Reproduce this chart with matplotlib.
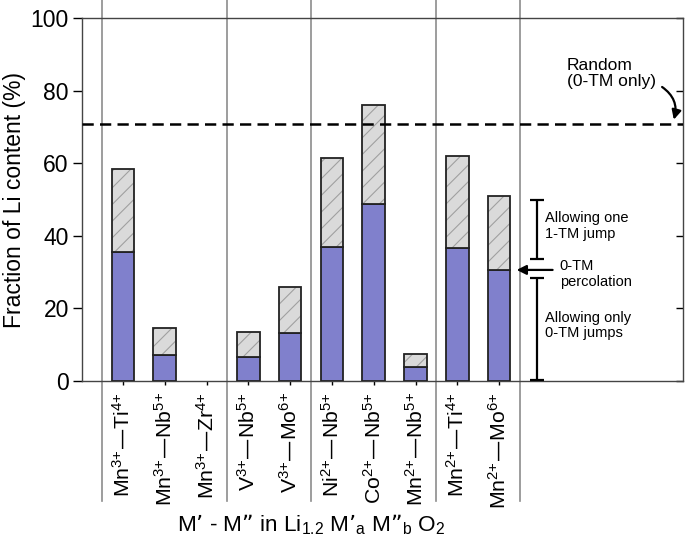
import matplotlib
matplotlib.use('Agg')
import matplotlib.pyplot as plt
import numpy as np

plt.rcParams['font.family'] = ['Liberation Sans', 'DejaVu Sans']
plt.rcParams['mathtext.default'] = 'regular'
plt.rcParams['hatch.linewidth'] = 0.8

pairs = ["Mn$^{3{+}}$—Ti$^{4{+}}$", "Mn$^{3{+}}$—Nb$^{5{+}}$", "Mn$^{3{+}}$—Zr$^{4{+}}$",
         "V$^{3{+}}$—Nb$^{5{+}}$", "V$^{3{+}}$—Mo$^{6{+}}$",
         "Ni$^{2{+}}$—Nb$^{5{+}}$", "Co$^{2{+}}$—Nb$^{5{+}}$", "Mn$^{2{+}}$—Nb$^{5{+}}$",
         "Mn$^{2{+}}$—Ti$^{4{+}}$", "Mn$^{2{+}}$—Mo$^{6{+}}$"]
zero_tm = [35.4, 7.2, 0.0, 6.6, 13.2, 36.9, 48.7, 3.9, 36.6, 30.6]
one_tm = [58.3, 14.6, 0.0, 13.6, 26.0, 61.3, 76.0, 7.5, 62.0, 51.0]
random_level = 70.8
separators = [-0.5, 2.5, 4.5, 7.5, 9.5]

x = np.arange(len(pairs))
extra = np.array(one_tm) - np.array(zero_tm)
lw_bars = [1.3 if v > 0 else 0 for v in one_tm]

fig = plt.figure(figsize=(6.85, 5.47), dpi=100)
ax = fig.add_axes([82/685, 166/547, 601/685, 363/547])

w = 0.54
ax.bar(x, zero_tm, width=w, color='#8080cc', edgecolor='#222222', linewidth=lw_bars, zorder=3)
ax.bar(x, extra, bottom=zero_tm, width=w, color='#dadada', edgecolor='#a0a0a0',
       hatch='//', linewidth=0, zorder=3)
ax.bar(x, extra, bottom=zero_tm, width=w, fill=False, edgecolor='#222222', linewidth=lw_bars, zorder=4)

for s in separators:
    ax.axvline(s, ymin=-0.33, ymax=1.06, color='#8c8c8c', lw=1.2, clip_on=False, zorder=1)

ax.axhline(random_level, color='black', lw=1.8, ls=(0, (4.5, 2.5)), zorder=5)

ax.set_xlim(-0.98, 13.4)
ax.set_ylim(0, 100)
ax.set_yticks([0, 20, 40, 60, 80, 100])
ax.tick_params(axis='y', labelsize=16.5, length=6.5, width=1, direction='out', pad=3)
ax.tick_params(axis='y', which='both', right=True, labelright=False)
ax.set_xticks(x)
ax.set_xticklabels(pairs, rotation=90, fontsize=15.3)
ax.tick_params(axis='x', length=3, width=1, pad=5)
for sp in ax.spines.values():
    sp.set_color('#444444')
    sp.set_linewidth(1.0)
# right ticks point inward
for t in ax.yaxis.get_major_ticks():
    t.tick2line.set_marker(matplotlib.lines.TICKLEFT)
    t.tick2line.set_markersize(5)

ax.set_ylabel("Fraction of Li content (%)", fontsize=16.5, labelpad=3)
ax.text(4.5, -0.395, "M’ - M” in Li$_{1.2}$ M’$_a$ M”$_b$ O$_2$", fontsize=16.2,
        transform=ax.get_xaxis_transform(), ha='center', va='center')

# bracket annotations
bx = 9.9
ax.errorbar(bx, (50 + 33.6) / 2, yerr=(50 - 33.6) / 2, color='black', lw=1.6, capsize=5, capthick=1.6, zorder=6)
ax.errorbar(bx, (28.4 + 0.4) / 2, yerr=(28.4 - 0.4) / 2, color='black', lw=1.6, capsize=5, capthick=1.6, zorder=6, clip_on=False)
ax.annotate("", xy=(9.42, 30.6), xytext=(10.28, 30.6),
            arrowprops=dict(arrowstyle='-|>', color='black', lw=1.6, mutation_scale=14, shrinkA=0, shrinkB=0))
ax.text(10.1, 42.7, "Allowing one\n1-TM jump", fontsize=10.5, ha='left', va='center', linespacing=1.15)
ax.text(10.45, 29.4, "0-TM\npercolation", fontsize=10.5, ha='left', va='center', linespacing=1.15)
ax.text(10.1, 15.3, "Allowing only\n0-TM jumps", fontsize=10.5, ha='left', va='center', linespacing=1.15)

ax.text(10.62, 84.8, "Random\n(0-TM only)", fontsize=12.5, ha='left', va='center', linespacing=1.1)
ax.annotate("", xy=(13.18, 72.0), xytext=(12.9, 81.0),
            arrowprops=dict(arrowstyle='-|>', color='black', lw=1.6, mutation_scale=14,
                            connectionstyle='arc3,rad=-0.35', shrinkA=0, shrinkB=0))

fig.savefig('out.png', dpi=100)
